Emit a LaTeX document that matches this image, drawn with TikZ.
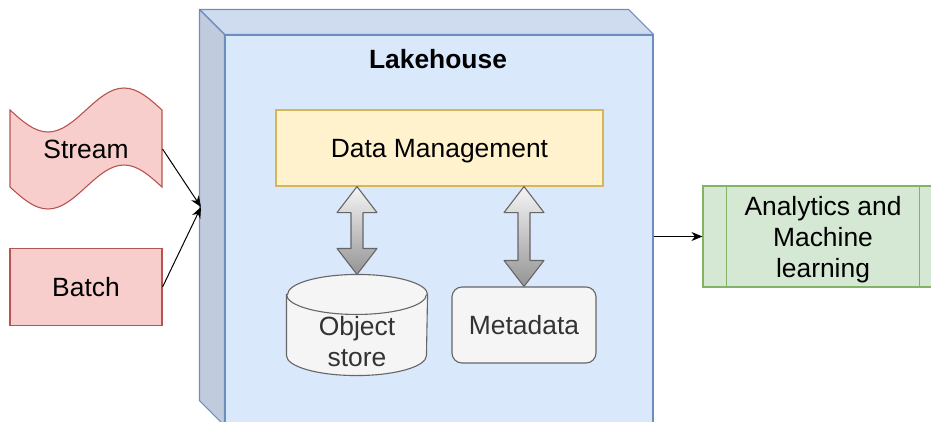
\documentclass[tikz,border=0pt]{standalone}
\usepackage{fontspec}
\setmainfont{Liberation Sans}
\usepackage{xcolor}
\usepackage{tikz}
\usetikzlibrary{arrows.meta,positioning,calc}
\definecolor{redfill}{HTML}{F8CECC}
\definecolor{redline}{HTML}{B85450}
\definecolor{bluefill}{HTML}{DAE8FC}
\definecolor{blueline}{HTML}{6C8EBF}
\definecolor{yelfill}{HTML}{FFF2CC}
\definecolor{yelline}{HTML}{D6B656}
\definecolor{grnfill}{HTML}{D5E8D4}
\definecolor{grnline}{HTML}{82B366}
\definecolor{gryfill}{HTML}{F5F5F5}
\definecolor{gryline}{HTML}{666666}
\definecolor{grytext}{HTML}{333333}

\begin{document}
\begin{tikzpicture}[x=1pt, y=1pt, line width=1.1pt,
  txt/.style={font=\fontsize{26.4}{31}\selectfont, align=center, inner sep=0pt, text depth=0pt},
  src/.style={txt, minimum width=152, minimum height=77},
  red/.style={draw=redline, fill=redfill},
  gry/.style={draw=gryline, fill=gryfill, text=grytext},
  flow/.style={-{Stealth[length=11pt,width=9pt]}, line width=1pt},
  blk/.style={draw=gryline, top color=black!4, bottom color=black!42}]
\useasboundingbox (0,0) rectangle (931,-421);

% lakehouse cube
\node[draw=blueline, fill=bluefill, minimum width=428, minimum height=390] (lake) at (439,-230) {};
\draw[draw=blueline, fill=bluefill!95!black, line join=round]
  (lake.north west) -- ++(-25,25) -- ($(lake.north east)+(-25,25)$) -- (lake.north east) -- cycle;
\draw[draw=blueline, fill=bluefill!88!black, line join=round]
  (lake.north west) -- ++(-25,25) -- ($(lake.south west)+(-25,25)$) -- (lake.south west) -- cycle;
\node[txt, font=\fontsize{26.4}{31}\selectfont\bfseries] (title) at (438,-58.5) {Lakehouse};
\coordinate (in) at (201,-207);

% sources
\draw[red] (10,-110) sin (48,-132) cos (86,-110) sin (124,-88) cos (162,-110)
  -- (162,-187) sin (124,-165) cos (86,-187) sin (48,-209) cos (10,-187) -- cycle;
\node[src] (stream) at (86,-149) {Stream};
\node[src, red] (batch) at (86,-287) {Batch};

% inside the lakehouse
\node[txt, draw=yelline, fill=yelfill, minimum width=327, minimum height=76] (dm) at (439.5,-148) {Data Management};
\node[minimum width=140, minimum height=100, inner sep=0pt] (os) at (357,-325) {};
\draw[gry] ($(os.north west)+(0,-20)$) -- ($(os.south west)+(0,20)$) arc (180:360:70 and 20)
  -- ($(os.north east)+(0,-20)$) arc (0:180:70 and 20) -- cycle;
\draw[gryline] ($(os.north west)+(0,-20)$) arc (180:360:70 and 20);
\node[txt, text=grytext] (ostext) at (357,-341.5) {Object\\store};
\node[txt, gry, rounded corners=10, minimum width=144, minimum height=76] (meta) at (524,-325) {Metadata};

% output
\node[txt, draw=grnline, fill=grnfill, minimum width=240, minimum height=101] (ana) at (823,-236.5) {Analytics and\\Machine\\learning};
\draw[grnline] ($(ana.north west)+(24,0)$) -- ($(ana.south west)+(24,0)$);
\draw[grnline] ($(ana.north east)+(-24,0)$) -- ($(ana.south east)+(-24,0)$);

% block arrows
\foreach \obj in {os,meta}
  \draw[blk, line join=round] let \p1=(\obj.north), \p2=(dm.south) in
    (\x1,\y2) -- ++(20,-26) -- ++(-14,0) -- ([xshift=6pt,yshift=26pt]\x1,\y1) -- ++(14,0)
    -- (\x1,\y1) -- ++(-20,26) -- ++(14,0) -- ([xshift=-6pt,yshift=-26pt]\x1,\y2) -- ++(-14,0) -- cycle;

% connectors
\draw[flow] (stream.east) -- (in);
\draw[flow] (batch.east) -- (in);
\draw[flow] (lake.east |- ana.west) -- (ana.west);
\end{tikzpicture}
\end{document}
